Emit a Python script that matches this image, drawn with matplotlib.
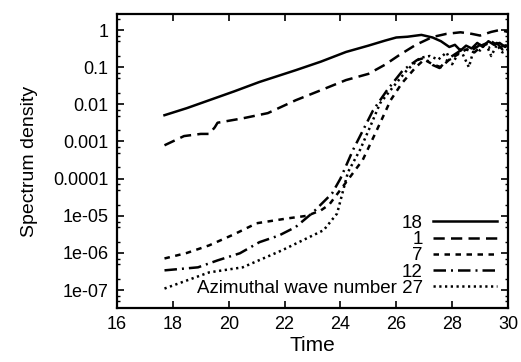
import matplotlib
matplotlib.use("Agg")
import matplotlib.pyplot as plt
from matplotlib.ticker import LogLocator, NullFormatter, FixedLocator

plt.rcParams['font.family'] = ['Liberation Sans', 'DejaVu Sans']

# Azimuthal wave number 18 (solid)
t18 = [17.7, 18.5, 19.3, 20.2, 21.1, 22.4, 23.3, 24.2, 25.0, 25.6, 26.0, 26.4, 26.9, 27.3,
       27.6, 27.9, 28.1, 28.3, 28.5, 28.7, 28.9, 29.1, 29.3, 29.5, 29.7, 29.9, 30.0]
v18 = [0.0051, 0.0079, 0.0129, 0.0224, 0.040, 0.083, 0.141, 0.257, 0.38, 0.52, 0.63, 0.66, 0.74, 0.63,
       0.50, 0.35, 0.40, 0.28, 0.38, 0.32, 0.45, 0.35, 0.50, 0.40, 0.45, 0.35, 0.40]

# wave number 1 (long dashes)
t1 = [17.7, 18.4, 19.0, 19.3, 19.5, 19.6, 20.5, 21.4, 22.4, 23.3, 24.2, 25.0, 25.6, 26.1,
      26.7, 27.3, 27.8, 28.3, 28.7, 29.0, 29.4, 29.7, 30.0]
v1 = [0.00079, 0.0014, 0.0016, 0.0016, 0.0024, 0.0032, 0.0042, 0.0058, 0.0129, 0.024, 0.045, 0.066,
      0.117, 0.21, 0.40, 0.65, 0.79, 0.87, 0.79, 0.71, 0.89, 1.0, 0.89]

# wave number 7 (short dashes)
t7 = [17.7, 18.5, 19.3, 20.2, 21.0, 22.1, 22.8, 23.3, 23.6, 24.0, 24.4, 24.8, 25.3, 25.8, 26.2,
      26.7, 27.0, 27.3, 27.6, 27.9, 28.2, 28.5, 28.8, 29.1, 29.4, 29.7, 30.0]
v7 = [7.1e-7, 1.0e-6, 1.6e-6, 3.2e-6, 6.3e-6, 8.5e-6, 1.0e-5, 1.4e-5, 2.0e-5, 5.0e-5, 1.26e-4, 3.2e-4,
      2.0e-3, 1.3e-2, 3.7e-2, 0.10, 0.16, 0.12, 0.10, 0.16, 0.22, 0.30, 0.25, 0.40, 0.50, 0.35, 0.40]

# wave number 12 (dash-dot)
t12 = [17.7, 18.9, 19.6, 20.4, 21.1, 21.8, 22.4, 23.0, 23.7, 24.0, 24.45, 25.17, 25.67, 26.24,
       26.74, 27.0, 27.3, 27.55, 27.9, 28.2, 28.4, 28.7, 29.0, 29.3, 29.6, 29.8, 30.0]
v12 = [3.4e-7, 4.1e-7, 6.3e-7, 9.8e-7, 1.95e-6, 2.95e-6, 5.0e-6, 1.2e-5, 4.0e-5, 1.0e-4, 5.9e-4,
       6.9e-3, 2.4e-2, 8.3e-2, 0.155, 0.178, 0.115, 0.095, 0.178, 0.25, 0.32, 0.28, 0.40, 0.33, 0.45, 0.30, 0.35]

# wave number 27 (dotted)
t27 = [17.7, 19.3, 20.5, 21.9, 23.4, 23.88, 24.1, 24.27, 24.7, 25.06, 25.42, 25.88, 26.38, 26.85,
       27.2, 27.5, 27.8, 28.0, 28.3, 28.6, 28.8, 29.0, 29.2, 29.4, 29.6, 29.8, 30.0]
v27 = [1.1e-7, 3.0e-7, 4.1e-7, 1.17e-6, 4.1e-6, 1.15e-5, 4.9e-5, 1.5e-4, 5.9e-4, 2.45e-3, 1.07e-2,
       2.9e-2, 8.3e-2, 0.178, 0.20, 0.16, 0.25, 0.12, 0.30, 0.10, 0.35, 0.28, 0.45, 0.20, 0.40, 0.25, 0.30]

labels = ["18", "1", "7", "12", "Azimuthal wave number 27"]
xticks = [16, 18, 20, 22, 24, 26, 28, 30]
yticks = [1e-7, 1e-6, 1e-5, 1e-4, 1e-3, 1e-2, 1e-1, 1]
yticklabels = ["1e-07", "1e-06", "1e-05", "0.0001", "0.001", "0.01", "0.1", "1"]

fig = plt.figure(figsize=(5.21, 3.62), dpi=100)
ax = fig.add_axes([0.2246, 0.1492, 0.975 - 0.2246, 0.9613 - 0.1492])

lw = 1.8
ax.plot(t18, v18, color='black', lw=lw, linestyle='-', label=labels[0])
ax.plot(t1, v1, color='black', lw=lw, linestyle=(0, (4.5, 2.5)), label=labels[1])
ax.plot(t7, v7, color='black', lw=lw, linestyle=(0, (2.2, 2.2)), label=labels[2])
ax.plot(t12, v12, color='black', lw=lw, linestyle=(0, (5, 2, 0.8, 2)), label=labels[3])
ax.plot(t27, v27, color='black', lw=lw, linestyle=(0, (0.9, 1.4)), label=labels[4])

ax.set_yscale('log')
ax.set_xlim(16, 30)
ax.set_ylim(3.3e-8, 2.7)
ax.set_xticks(xticks)
ax.set_xticklabels([str(x) for x in xticks])
ax.yaxis.set_major_locator(FixedLocator(yticks))
ax.set_yticklabels(yticklabels)
ax.yaxis.set_minor_locator(LogLocator(base=10, subs=(2.0, 5.0, 7.0), numticks=20))
ax.yaxis.set_minor_formatter(NullFormatter())

ax.tick_params(which='major', direction='in', length=5, width=1.2, top=True, right=True,
               labelsize=13, pad=6)
ax.tick_params(which='minor', direction='in', length=2.5, width=1.0, left=True, right=True)
for s in ax.spines.values():
    s.set_linewidth(1.6)

ax.set_xlabel("Time", fontsize=15, labelpad=2)
ax.set_ylabel("Spectrum density", fontsize=14, labelpad=11)

leg = ax.legend(loc='lower right', frameon=False, markerfirst=False, fontsize=13.5,
                handlelength=3.4, handletextpad=0.55, labelspacing=-0.05,
                borderaxespad=0.2, borderpad=0.4)

fig.savefig("out.png", dpi=100)
